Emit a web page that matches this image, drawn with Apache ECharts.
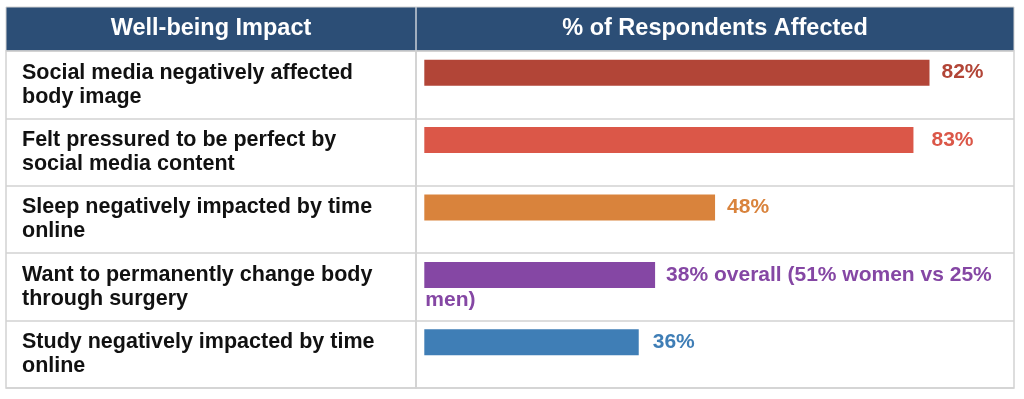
<!DOCTYPE html>
<html>
<head>
<meta charset="utf-8">
<script src="https://cdn.jsdelivr.net/npm/echarts@6/dist/echarts.min.js"></script>
<style>
  html, body { margin: 0; padding: 0; background: #fff; }
  #chart { width: 1024px; height: 399px; }
</style>
</head>
<body>
<div id="chart"></div>
<script>
var headers = ['Well-being Impact', '% of Respondents Affected'];
var impacts = [
  'Social media negatively affected\nbody image',
  'Felt pressured to be perfect by\nsocial media content',
  'Sleep negatively impacted by time\nonline',
  'Want to permanently change body\nthrough surgery',
  'Study negatively impacted by time\nonline'
];
// bar lengths as drawn in the source (they don't exactly follow the printed numbers)
var barValues = [83.4, 80.75, 48, 38.1, 35.4];
var valueLabels = ['82%', '83%', '48%', '38% overall (51% women vs 25%\nmen)', '36%'];
var barColors = ['#b24537', '#db5748', '#d9833c', '#8547a4', '#3f7eb6'];
var labelGaps = [12, 18, 12, 11, 14];

var FONT = '"Liberation Sans", Arial, Helvetica, sans-serif';
var LINE = '#d2d2d2';

var chart = echarts.init(document.getElementById('chart'));

function buildData(spacer) {
  return barValues.map(function (v, i) {
    var txt = valueLabels[i];
    var label;
    if (txt.indexOf('\n') >= 0) {
      // long label: first line beside the bar, the rest wraps back under it
      var lines = txt.split('\n');
      label = {
        show: true,
        position: 'insideLeft',
        distance: 1,
        offset: [0, 12.5],
        formatter: '{sp| }{v|' + lines[0] + '}\n{v|' + lines[1] + '}',
        rich: {
          sp: { width: spacer || 0, fontSize: 21, lineHeight: 25 },
          v: { color: barColors[i], fontSize: 21, fontWeight: 'bold', lineHeight: 25, fontFamily: FONT }
        }
      };
    } else {
      label = {
        show: true,
        position: 'right',
        distance: labelGaps[i],
        formatter: txt,
        color: barColors[i],
        fontSize: 21,
        fontWeight: 'bold',
        fontFamily: FONT
      };
    }
    return { value: v, itemStyle: { color: barColors[i] }, label: label };
  });
}

chart.setOption({
  animation: false,
  graphic: [
    {
      type: 'rect',
      shape: { x: 6, y: 7, width: 1008, height: 44 },
      style: { fill: '#2c4e76', stroke: LINE, lineWidth: 1 }
    },
    {
      type: 'line',
      shape: { x1: 416, y1: 7, x2: 416, y2: 51 },
      style: { stroke: '#c8cfd8', lineWidth: 1.5 }
    },
    {
      type: 'text', x: 211, y: 29,
      style: {
        text: headers[0], fill: '#fff', font: 'bold 23.5px ' + FONT,
        align: 'center', verticalAlign: 'middle', textAlign: 'center', textVerticalAlign: 'middle'
      }
    },
    {
      type: 'text', x: 715, y: 29,
      style: {
        text: headers[1], fill: '#fff', font: 'bold 23.5px ' + FONT,
        align: 'center', verticalAlign: 'middle', textAlign: 'center', textVerticalAlign: 'middle'
      }
    }
  ],
  grid: [
    { left: 6, top: 51, width: 410, height: 337, show: true, borderColor: LINE, borderWidth: 1.5 },
    { left: 416, top: 51, width: 598, height: 337, show: true, borderColor: LINE, borderWidth: 1.5 },
    { left: 424.3, top: 39, right: 0, height: 337 }
  ],
  xAxis: [
    { gridIndex: 0, type: 'value', show: false, min: 0, max: 100 },
    { gridIndex: 1, type: 'value', show: false, min: 0, max: 100 },
    { gridIndex: 2, type: 'value', show: false, min: 0, max: 99 }
  ],
  yAxis: [
    {
      gridIndex: 0, type: 'category', inverse: true, data: impacts,
      axisLine: { show: false }, axisTick: { show: false },
      axisLabel: {
        inside: true, margin: 16, align: 'left', interval: 0,
        color: '#111', fontSize: 21.5, fontWeight: 'bold', lineHeight: 24, fontFamily: FONT
      },
      splitLine: { show: true, interval: 0, lineStyle: { color: LINE, width: 1.5 } }
    },
    {
      gridIndex: 1, type: 'category', inverse: true, data: impacts,
      axisLine: { show: false }, axisTick: { show: false }, axisLabel: { show: false, interval: 0 },
      splitLine: { show: true, interval: 0, lineStyle: { color: LINE, width: 1.5 } }
    },
    {
      gridIndex: 2, type: 'category', inverse: true, data: impacts, show: false
    }
  ],
  series: [{
    type: 'bar',
    xAxisIndex: 2,
    yAxisIndex: 2,
    barWidth: 26,
    data: buildData(0)
  }]
});

// spacer for the wrapped label = bar length from the axis scale, plus the gap
var wrapIdx = valueLabels.findIndex(function (t) { return t.indexOf('\n') >= 0; });
if (wrapIdx >= 0) {
  var x0 = chart.convertToPixel({ xAxisIndex: 2 }, 0);
  var x1 = chart.convertToPixel({ xAxisIndex: 2 }, barValues[wrapIdx]);
  chart.setOption({ series: [{ data: buildData(x1 - x0 + labelGaps[wrapIdx] - 1) }] });
}
</script>
</body>
</html>
